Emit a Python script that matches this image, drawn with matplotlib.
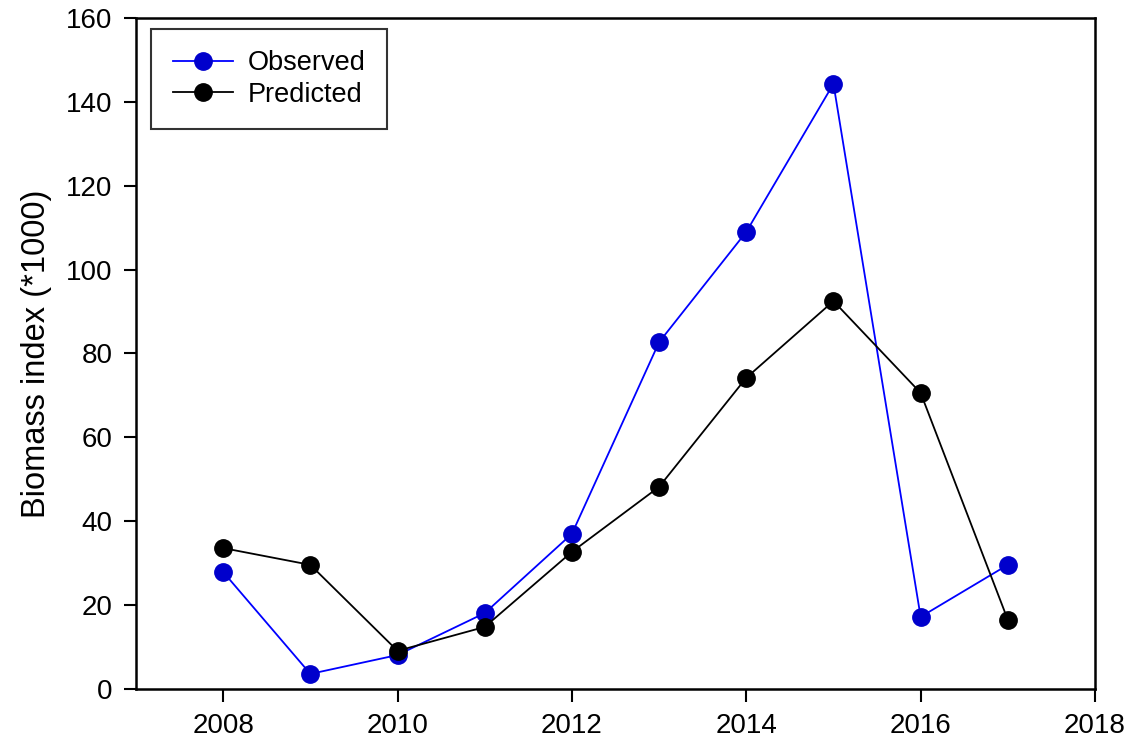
import matplotlib.pyplot as plt

plt.rcParams['font.family'] = ['Liberation Sans', 'DejaVu Sans']

years = [2008, 2009, 2010, 2011, 2012, 2013, 2014, 2015, 2016, 2017]
observed = [27.9, 3.6, 8.1, 18.1, 37.0, 82.7, 109.0, 144.3, 17.2, 29.6]
predicted = [33.6, 29.6, 9.1, 14.8, 32.7, 48.2, 74.2, 92.5, 70.6, 16.5]

fig = plt.figure(figsize=(11.33, 7.45), dpi=100)
ax = fig.add_axes([136 / 1133, 1 - 689 / 745, (1095 - 136) / 1133, (689 - 18) / 745])

ax.plot(years, observed, color='#0000ff', lw=1.3, marker='o', markersize=12.5,
        markerfacecolor='#0000cc', markeredgecolor='#0000cc', label='Observed')
ax.plot(years, predicted, color='black', lw=1.3, marker='o', markersize=12.5,
        markerfacecolor='black', markeredgecolor='black', label='Predicted')

ax.set_xlim(2007, 2018)
ax.set_ylim(0, 160)
ax.set_xticks(range(2008, 2019, 2))
ax.set_yticks(range(0, 161, 20))
ax.tick_params(direction='out', length=9, width=1.5, labelsize=20, pad=8)
for s in ax.spines.values():
    s.set_linewidth(1.8)

ax.set_ylabel('Biomass index (*1000)', fontsize=23.5, labelpad=10)

leg = ax.legend(loc='upper left', bbox_to_anchor=(0.016, 0.984), fontsize=19.5,
                frameon=True, fancybox=False, handlelength=2.2, borderpad=0.8,
                labelspacing=0.2, handletextpad=0.55, borderaxespad=0)
leg.get_frame().set_edgecolor('black')
leg.get_frame().set_linewidth(1.5)

fig.savefig('out.png', dpi=100)
